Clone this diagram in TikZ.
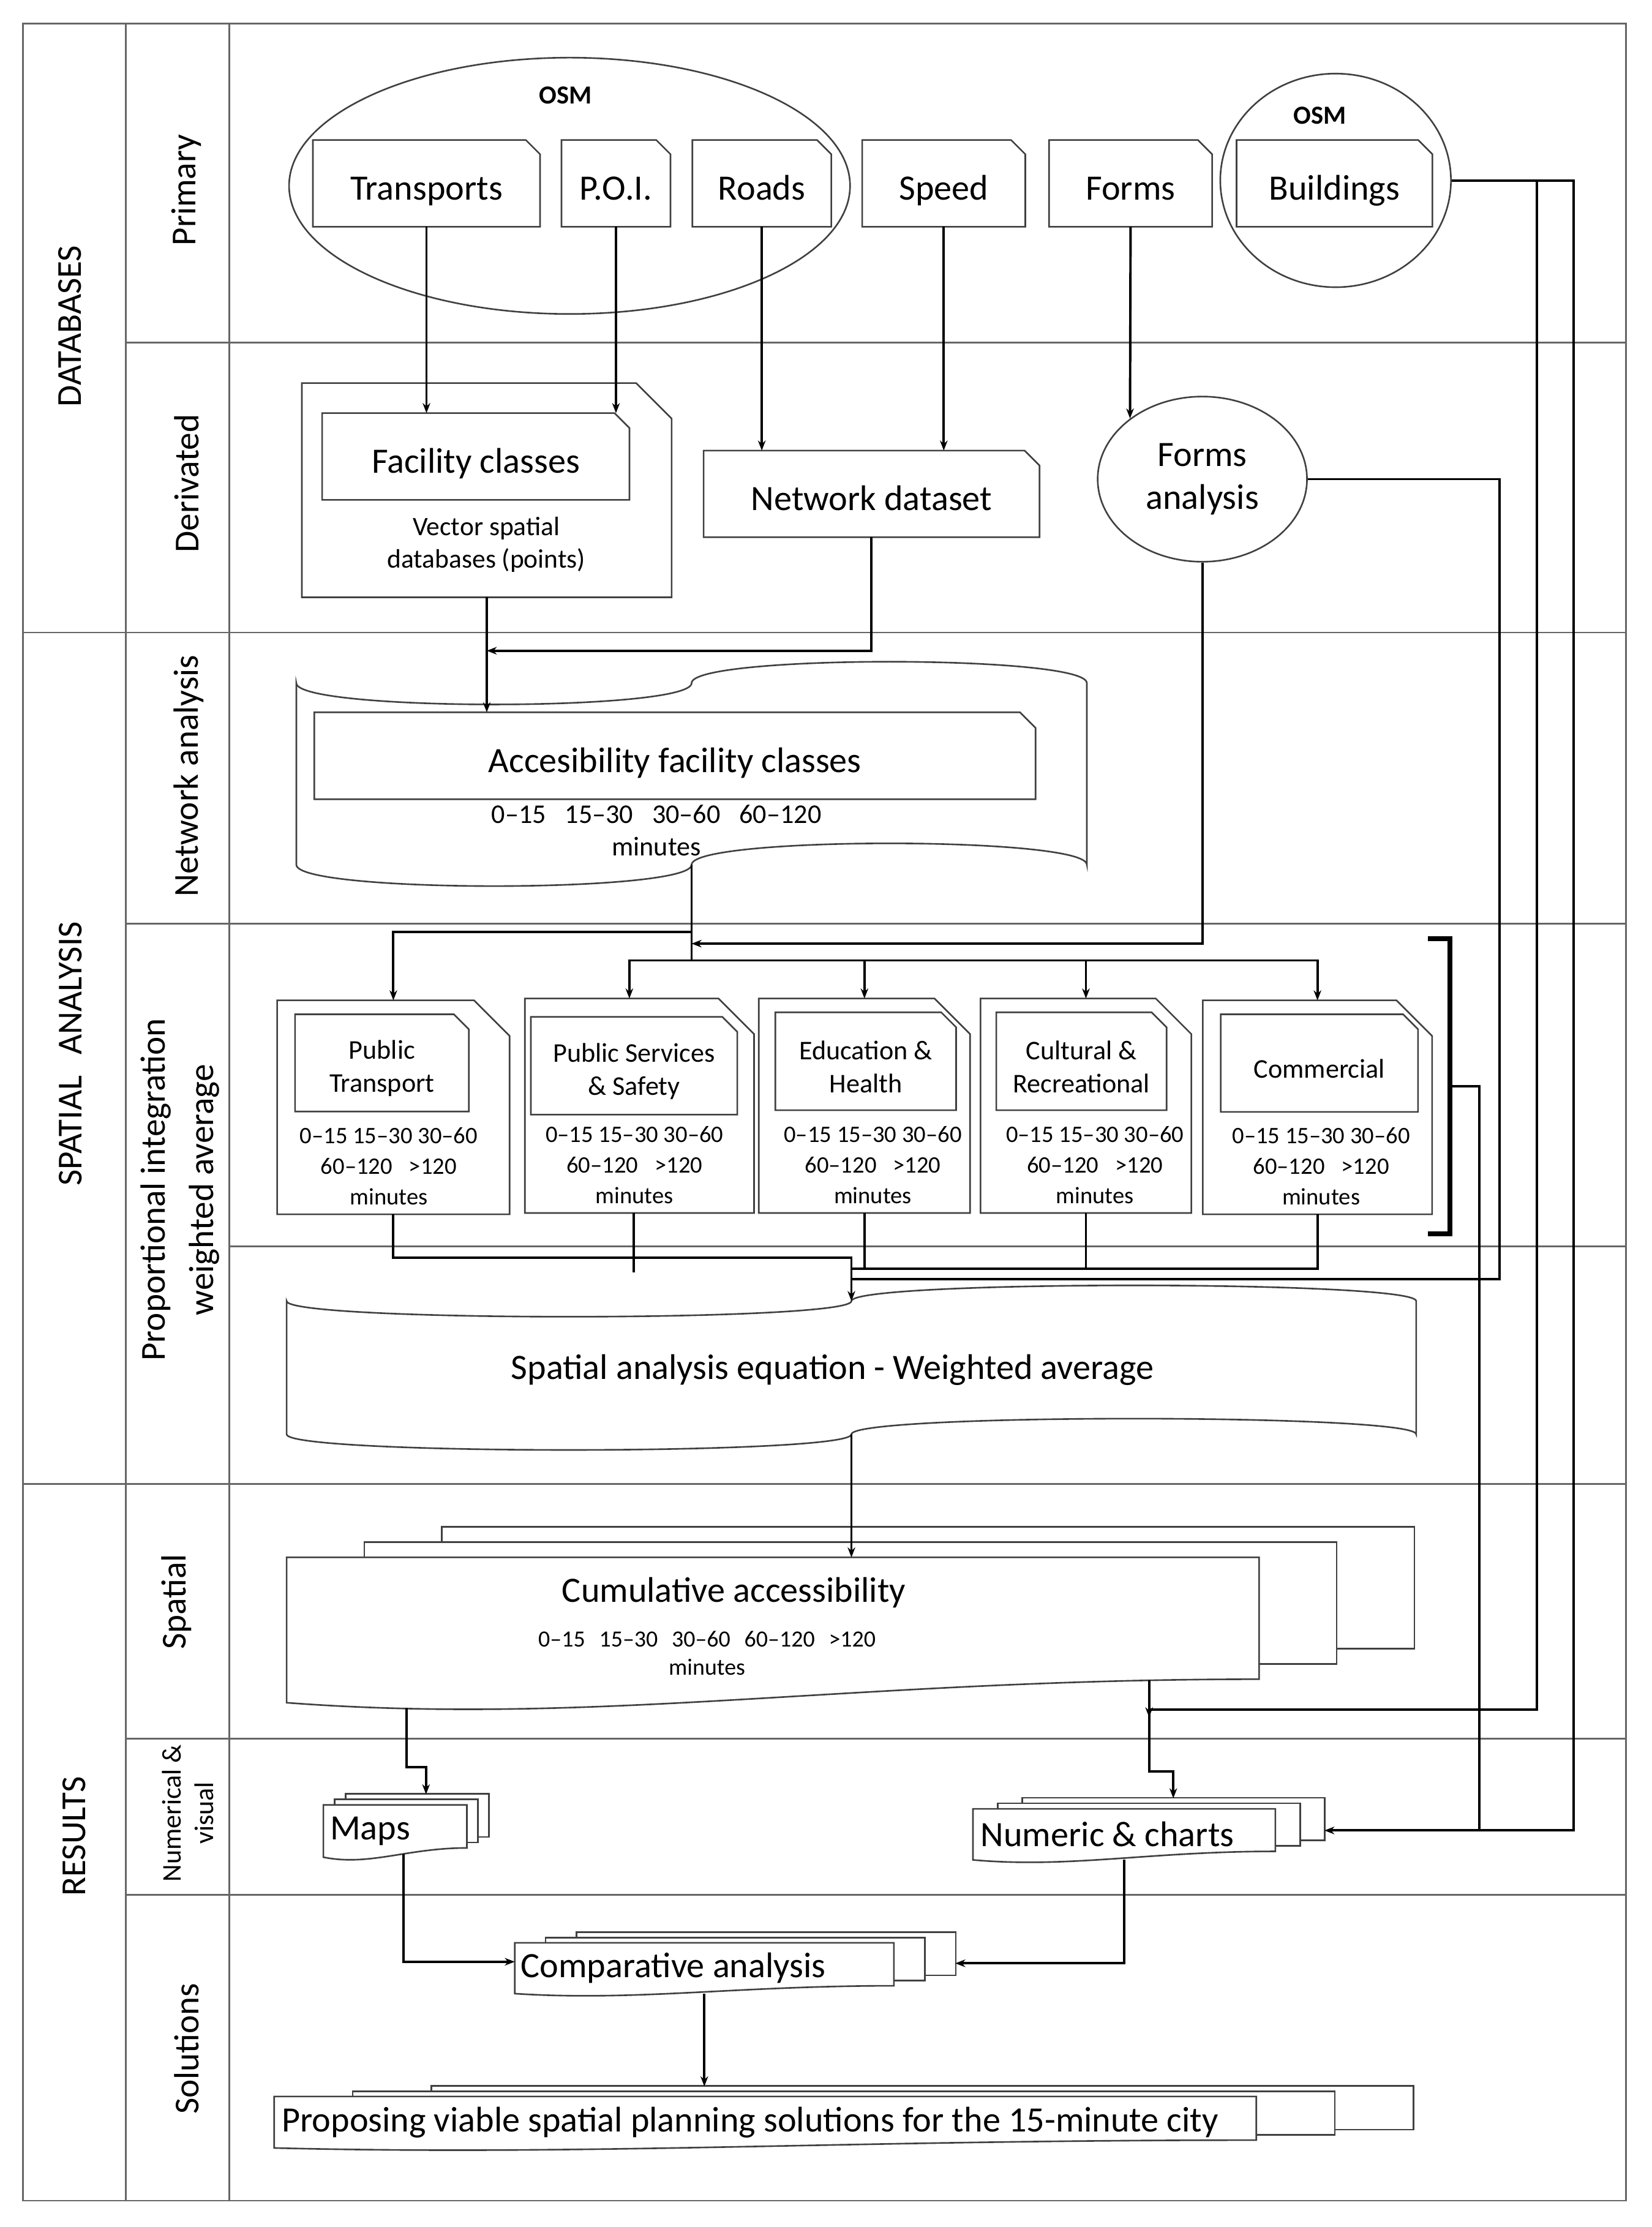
\documentclass[tikz,border=0pt]{standalone}
\usepackage{fontspec}
\setmainfont{Carlito}
\usetikzlibrary{shapes.geometric,calc,arrows.meta}
\pgfdeclarelayer{bg}
\pgfsetlayers{bg,main}

\newcommand\fbig{\fontsize{17.8pt}{21.5pt}\selectfont}
\newcommand\fside{\fontsize{17.5pt}{24pt}\selectfont}
\newcommand\fsidesm{\fontsize{13.5pt}{16.3pt}\selectfont}
\newcommand\fcat{\fontsize{13.5pt}{16.5pt}\selectfont}
\newcommand\frng{\fontsize{11.8pt}{15.3pt}\selectfont}
\newcommand\fvec{\fontsize{13.3pt}{16pt}\selectfont}
\newcommand\facc{\fontsize{13.5pt}{16.1pt}\selectfont}
\newcommand\fcum{\fontsize{11.6pt}{14pt}\selectfont}
\newcommand\fosm{\fontsize{13pt}{15pt}\selectfont\bfseries}
\newcommand\tstrut{\rule{0pt}{15pt}}

% card with cut top right corner
\newcommand\dogear[2]{\draw[boxline] (#1.south west) -- (#1.north west) -- ($(#1.north east)+(-#2,0)$) -- ($(#1.north east)+(0,#2)$) -- (#1.south east) -- cycle;}
% tape with waved top and bottom
\newcommand\tapeline[2]{\draw[boxline] (#1.north west) .. controls ($(#1.north west)+(0,{4/3*#2})$) and ($(#1.north)+(0,{4/3*#2})$) .. (#1.north) .. controls ($(#1.north)+(0,{-4/3*#2})$) and ($(#1.north east)+(0,{-4/3*#2})$) .. (#1.north east) -- (#1.south east) .. controls ($(#1.south east)+(0,{-4/3*#2})$) and ($(#1.south)+(0,{-4/3*#2})$) .. (#1.south) .. controls ($(#1.south)+(0,{4/3*#2})$) and ($(#1.south west)+(0,{4/3*#2})$) .. (#1.south west) -- cycle;}
% stack of three documents
\newcommand\docstack[4]{\begin{pgfonlayer}{bg}
\draw[boxline, fill=white] ($(#1.north west)+({2*#2},{-2*#3})$) rectangle ($(#1.south east)+({2*#2},{-2*#3-#4})$);
\draw[boxline, fill=white] ($(#1.north west)+(#2,-#3)$) rectangle ($(#1.south east)+(#2,{-#3-#4})$);
\draw[boxline, fill=white] (#1.north west) -- (#1.north east) -- ($(#1.south east)+(0,-#4)$) .. controls ($(#1.south west)!0.58!(#1.south east)+(0,-#4)$) and ($(#1.south west)!0.32!(#1.south east)+(0,#4)$) .. (#1.south west) -- cycle;
\end{pgfonlayer}}

\begin{document}
\begin{tikzpicture}[
    x=0.025cm, y=-0.025cm,
    boxline/.style={draw=black!75, line width=0.8pt},
    gridline/.style={draw=black!60, line width=0.9pt},
    line/.style={draw=black, line width=1.2pt},
    conn/.style={line, -{Stealth[length=5pt,width=3.8pt]}},
    sz/.style 2 args={minimum width=#1*0.025cm, minimum height=#2*0.025cm},
    card/.style={rectangle, inner sep=0pt, align=center, font=\fbig, text height=16.7pt, text depth=0pt},
    cardsm/.style={rectangle, inner sep=0pt, align=center, font=\fcat},
    region/.style={rectangle, inner sep=0pt},
    oval/.style={ellipse, draw=black!75, line width=0.8pt, inner sep=0pt},
    bigtxt/.style={inner sep=0pt, font=\fbig},
    side/.style={inner sep=0pt, align=center, font=\fside, rotate=90},
    rng/.style={inner sep=0pt, align=center, font=\frng},
    osmtxt/.style={inner sep=0pt, font=\fosm}
    ]
    \useasboundingbox (0,0) rectangle (1160,1564);

    \draw[gridline] (16.1,16.6) rectangle (1142,1545.5);
    \draw[gridline] (88.3,16.6) -- (88.3,1545.5);
    \draw[gridline] (161.2,16.6) -- (161.2,1545.5);
    \draw[gridline] (88.3,240.7) -- (1142,240.7);
    \draw[gridline] (16.1,444.2) -- (1142,444.2);
    \draw[gridline] (88.3,648.8) -- (1142,648.8);
    \draw[gridline] (161.2,875.5) -- (1142,875.5);
    \draw[gridline] (16.1,1042.3) -- (1142,1042.3);
    \draw[gridline] (88.3,1221) -- (1142,1221);
    \draw[gridline] (88.3,1330.5) -- (1142,1330.5);

    \node [side] (dblbl) at (49,229) {DATABASES};
    \node [side] (prim) at (131,133.5) {Primary};
    \node [side] (deriv) at (131,339.6) {Derivated};
    \node [side] (netlbl) at (132.6,545) {Network analysis};
    \node [side] (salbl) at (49.4,740) {SPATIAL\hspace{0.6em}ANALYSIS};
    \node [side] (proplbl) at (126.5,835.6) {Proportional integration\\weighted average};
    \node [side] (reslbl) at (52.3,1289.6) {RESULTS};
    \node [side] (spat) at (124,1125) {Spatial};
    \node [side, font=\fsidesm] (numvis) at (131.8,1273.3) {Numerical \&\\visual};
    \node [side] (sol) at (131,1438.8) {Solutions};

    \node [oval, sz={394}{180}] (osma) at (400,130.5) {};
    \node [osmtxt] (osmal) at (397.3,67) {OSM};
    \node [oval, sz={162}{150}] (osmb) at (938,126.7) {};
    \node [osmtxt] (osmbl) at (927,81) {OSM};
    \node [card, sz={159}{60.4}] (trans) at (299.5,128.8) {Transports};
    \node [card, sz={76}{60.4}] (poi) at (432.6,128.8) {P.O.I.};
    \node [card, sz={97}{60.4}] (roads) at (535,128.8) {Roads};
    \node [card, sz={114}{60.4}] (speed) at (662.8,128.8) {Speed};
    \node [card, sz={114}{60.4}] (forms) at (794,128.8) {Forms};
    \node [card, sz={137}{60.4}] (bld) at (937.2,128.8) {Buildings};
    \dogear{trans}{10} \dogear{poi}{10} \dogear{roads}{10}
    \dogear{speed}{10} \dogear{forms}{10} \dogear{bld}{10}

    \node [card, sz={259.1}{149.9}] (fcl) at (341.85,344.25) {};
    \node [card, sz={215.3}{60.4}] (fclin) at (334.15,320.6) {Facility classes};
    \node [inner sep=0pt, align=center, font=\fvec] (vec) at (341.6,382.5) {Vector spatial\\databases (points)};
    \node [card, sz={235.4}{60.3}] (net) at (612.1,346.85) {Network dataset};
    \node [oval, sz={147}{116}, align=center, font=\fbig] (fa) at (844.4,336.5) {Forms\\analysis};
    \dogear{fcl}{25} \dogear{fclin}{10.5} \dogear{net}{10.5}

    \node [region, sz={554.6}{127}] (acc) at (485.7,543.5) {};
    \node [card, sz={506}{60.5}] (accin) at (474,530.75) {Accesibility facility classes};
    \node [inner sep=0pt, align=center, font=\facc] (accmin) at (461,583.3) {0–15\hspace{0.7em}15–30\hspace{0.7em}30–60\hspace{0.7em}60–120\\minutes};
    \tapeline{acc}{15}
    \dogear{accin}{11}

    \node [card, sz={162.7}{149.7}] (pt) at (276.25,777.65) {};
    \node [cardsm, sz={121.5}{67.7}] (ptin) at (268.25,746.45) {\tstrut Public\\Transport};
    \node [rng] (ptr) at (273,819) {0–15 15–30 30–60\\60–120\hspace{0.7em}>120\\minutes};
    \node [card, sz={160.4}{150.1}] (pss) at (449.1,776.55) {};
    \node [cardsm, sz={144.4}{68.1}] (pssin) at (445.3,748.45) {\tstrut Public Services\\\& Safety};
    \node [rng] (pssr) at (445.6,818) {0–15 15–30 30–60\\60–120\hspace{0.7em}>120\\minutes};
    \node [card, sz={147.8}{150.1}] (eh) at (607.1,776.55) {};
    \node [cardsm, sz={126.4}{68.2}] (ehin) at (608,745.3) {\tstrut Education \&\\Health};
    \node [rng] (ehr) at (613,818) {0–15 15–30 30–60\\60–120\hspace{0.7em}>120\\minutes};
    \node [card, sz={147.5}{150.1}] (cr) at (762.65,776.55) {};
    \node [cardsm, sz={119}{68.2}] (crin) at (759.5,745.3) {\tstrut Cultural \&\\Recreational};
    \node [rng] (crr) at (769,818) {0–15 15–30 30–60\\60–120\hspace{0.7em}>120\\minutes};
    \node [card, sz={160.5}{149.7}] (com) at (925.25,777.65) {};
    \node [cardsm, sz={138}{68}] (comin) at (926.6,746.6) {\tstrut Commercial};
    \node [rng] (comr) at (927.8,819) {0–15 15–30 30–60\\60–120\hspace{0.7em}>120\\minutes};
    \dogear{pt}{25} \dogear{ptin}{10.5} \dogear{pss}{25} \dogear{pssin}{10.5}
    \dogear{eh}{25} \dogear{ehin}{10.5} \dogear{cr}{25} \dogear{crin}{10.5}
    \dogear{com}{25} \dogear{comin}{10.5}
    \draw [draw=black, line width=2.4pt] (1003,659.2) -- (1018.4,659.2) -- (1018.4,866.4) -- (1003,866.4);

    \node [region, sz={792.7}{93}] (wavg) at (597.95,960.5) {};
    \node [bigtxt] (wavgt) at (584.7,962) {Spatial analysis equation - Weighted average};
    \tapeline{wavg}{11}

    \node [region, sz={682.4}{101.5}] (cum) at (542.8,1144.75) {};
    \node [bigtxt] (cumt) at (515.4,1118.5) {Cumulative accessibility};
    \node [inner sep=0pt, align=center, font=\fcum] (cumr) at (496.5,1161) {0–15\hspace{0.6em}15–30\hspace{0.6em}30–60\hspace{0.6em}60–120\hspace{0.6em}>120\\minutes};
    \docstack{cum}{54.5}{10.75}{16.5}

    \node [region, sz={100.2}{36.2}] (maps) at (277.5,1285.9) {};
    \node [bigtxt, anchor=west] (mapst) at ([xshift=0.11cm]maps.west) {Maps};
    \node [region, sz={211.8}{35.3}] (num) at (789.5,1288.25) {};
    \node [bigtxt, anchor=west] (numt) at ([xshift=0.13cm]num.west) {Numeric \& charts};
    \node [region, sz={265.7}{35.1}] (cmp) at (494.65,1382.25) {};
    \node [bigtxt, anchor=west] (cmpt) at ([xshift=0.1cm]cmp.west) {Comparative analysis};
    \node [region, sz={689.2}{35.6}] (prop) at (537.4,1490.4) {};
    \node [bigtxt, anchor=west] (propt) at ([xshift=0.13cm]prop.west) {Proposing viable spatial planning solutions for the 15-minute city};
    \docstack{maps}{7.8}{3.9}{6.5}
    \docstack{num}{17.35}{3.85}{6}
    \docstack{cmp}{21.7}{3.7}{5.5}
    \docstack{prop}{55.2}{3.7}{5.5}

    \coordinate (hub) at (485.7,674.5);
    \coordinate (brk) at (1018.4,762.8);
    \coordinate (pssout) at (445.2,893.6);
    \coordinate (numin) at (930.1,1285.5);
    \coordinate (cumL) at (285.4,1199.3);
    \coordinate (cumR) at (807,1180);
    \coordinate (mapsin) at (299.2,1260.1);
    \coordinate (numtop) at (824,1262.9);
    \coordinate (mapsout) at (283.5,1302);
    \coordinate (cmpR) at (670.9,1378.8);

    \draw [conn] (trans.south) -- (trans.south |- fclin.north);
    \draw [conn] (poi.south) -- (poi.south |- fclin.north);
    \draw [conn] (roads.south) -- (roads.south |- net.north);
    \draw [conn] (speed.south) -- (speed.south |- net.north);
    \draw [conn] (forms.south) -- (fa.140);
    \draw [conn] (fcl.south) -- (fcl.south |- accin.north);
    \draw [conn] (net.south) |- (fcl.south |- 0,457);

    \draw [line] (acc.south) -- (hub);
    \draw [conn] (acc.south |- 0,654.6) -| (pt.north);
    \draw [conn] (fa.south) |- (acc.south |- 0,662.7);
    \draw [conn] (hub) -| (pss.north -| 442,0);
    \draw [conn] (hub) -| (eh.north);
    \draw [conn] (hub) -| (cr.north);
    \draw [conn] (hub) -| (com.north);

    \draw [conn] (pt.south) |- (wavg.north |- 0,883.1) -- (wavg.north);
    \draw [line] (pssout |- pss.south) -- (pssout);
    \draw [line] (eh.south) |- (wavg.north |- 0,891);
    \draw [line] (cr.south) -- (cr.south |- 0,891);
    \draw [line] (com.south) |- (wavg.north |- 0,891);
    \draw [line] (fa.east) -| (1053,898.5) -- (wavg.north |- 0,898.5);

    \draw [conn] (osmb.east) -| (1079.4,1200.5) -| (cumR |- 0,1206);
    \draw [conn] (osmb.east) -| (1105.1,1285.5) -- (numin);
    \draw [line] (brk) -| (1039,1285.5);

    \draw [conn] (wavg.south) -- (wavg.south |- cum.north);
    \draw [conn] (cumL) -- (cumL |- 0,1241.1) -| (mapsin);
    \draw [conn] (cumR) -- (cumR |- 0,1244) -| (numtop);
    \draw [conn] (mapsout) |- (cmp.west |- 0,1377.7);
    \draw [conn] (num.south) |- (cmpR);
    \draw [conn] (cmp.south) -- (cmp.south |- 0,1465.2);
\end{tikzpicture}
\end{document}
